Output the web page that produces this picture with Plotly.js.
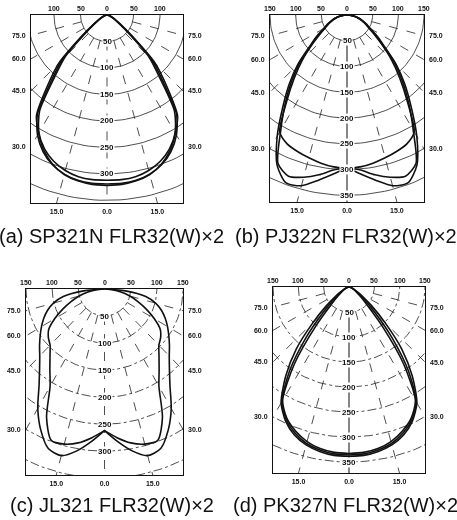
<!DOCTYPE html>
<html><head><meta charset="utf-8">
<script src="https://cdn.plot.ly/plotly-3.0.1.min.js"></script>
<style>html,body{margin:0;padding:0;background:#fff}#chart{width:457px;height:520px}#chart svg{will-change:transform}</style>
</head><body><div id="chart"></div>
<script>
// ---------- data ----------
const angles = [0,5,10,15,20,25,30,35,40,45,50,55,60,65,70,75,80,85,90];

// (a) SP321N
const spA1 = [319,319,317,311,301,285,262,229,165,120,58,30,18,11,7,4,2,1,0];
const spA2 = [312,312,310,304,294,279,257,222,155,112,52,27,16,10,6,4,2,1,0];
const spA3 = [322,321,318,312,300,282,258,232,175,128,62,33,20,12,8,5,3,1,0];
// (b) PJ322N
const pjB1 = [297,310,326,343,347,322,272,218,175,135,95,72,52,42,32,24,16,8,0];
const pjB2 = [297,302,315,326,333,318,258,210,168,130,92,68,50,40,31,23,15,8,0];
const pjB3 = [298,296,292,287,282,276,262,205,160,122,88,64,48,38,30,22,14,7,0];
// (c) JL321
const jlC1 = [262,283,304,319,314,288,255,218,193,175,162,150,139,128,116,101,80,40,0];
const jlC2 = [262,276,289,297,298,262,208,182,162,147,140,130,110,88,68,50,32,15,0];
// (d) PK327N
const pkD1 = [339,338,334,327,315,296,268,218,162,100,58,33,20,12,7,4,2,1,0];
const pkD2 = [333,332,328,320,307,290,262,188,102,50,29,18,12,8,5,3,2,1,0];
const pkD3 = [336,335,331,324,311,293,265,204,132,74,42,25,16,10,6,3,2,1,0];

const arcRadii = [50,100,150,200,250,300,350];
const arcLabelsA = [50,100,150,200,250,300];
const arcLabelsB = [50,100,150,200,250,300,350];
const arcLabelsC = [50,100,150,200,250,300];
const arcLabelsD = [50,100,150,200,250,300,350];
const gridAngles = [15,30,45,60,75];
const sideTickAngles = [75,60,45,30];
const sideTickText = ['75.0','60.0','45.0','30.0'];
const bottomTickAngles = [-15,0,15];
const bottomTickText = ['15.0','0.0','15.0'];
const topTicksA = [-100,-50,0,50,100];
const topTicksB = [-150,-100,-50,0,50,100,150];
const captions = ['(a) SP321N FLR32(W)×2','(b) PJ322N FLR32(W)×2','(c) JL321 FLR32(W)×2','(d) PK327N FLR32(W)×2'];

// ---------- layout geometry (pixels) ----------
const W = 457, H = 520, D = Math.PI/180;
const panels = [
  {curves:[spA1,spA2,spA3], labels:arcLabelsA, top:topTicksA, px:[31,183], py:[15,203], xr:143.4, yr:355, arcDash:'solid', capX:111, capY:236},
  {curves:[pjB1,pjB2,pjB3], labels:arcLabelsB, top:topTicksB, px:[270,424], py:[15,202], xr:150, yr:363, arcDash:'solid', capX:346, capY:236},
  {curves:[jlC1,jlC2], labels:arcLabelsC, top:topTicksB, px:[26,183], py:[289,475], xr:150, yr:344, arcDash:'dashdot', capX:112, capY:505},
  {curves:[pkD1,pkD2,pkD3], labels:arcLabelsD, top:topTicksB, px:[273,425], py:[287,473], xr:150, yr:372, arcDash:'dashdot', capX:345, capY:505}
];

const traces = [], annotations = [], layout = {
  width:W, height:H, margin:{l:0,r:0,t:0,b:0}, paper_bgcolor:'#fff', plot_bgcolor:'#fff',
  showlegend:false, font:{family:'Liberation Sans, Arial, sans-serif', color:'#111'}
};
const tickFont = {family:'Liberation Sans, Arial, sans-serif', size:7, color:'#111', weight:'bold'};

function curveXY(vals){
  const x=[], y=[];
  for(let i=angles.length-1;i>=0;i--){ x.push(-vals[i]*Math.sin(angles[i]*D)); y.push(-vals[i]*Math.cos(angles[i]*D)); }
  x.push(null); y.push(null);
  for(let i=0;i<angles.length;i++){ x.push(vals[i]*Math.sin(angles[i]*D)); y.push(-vals[i]*Math.cos(angles[i]*D)); }
  return {x,y};
}

panels.forEach((p,i)=>{
  const k = i+1, xa='x'+k, ya='y'+k;
  // arcs
  const ax=[], ay=[];
  arcRadii.forEach(r=>{
    for(let t=-90;t<=90;t+=2){ ax.push(r*Math.sin(t*D)); ay.push(-r*Math.cos(t*D)); }
    ax.push(null); ay.push(null);
  });
  traces.push({type:'scatter',mode:'lines',x:ax,y:ay,xaxis:xa,yaxis:ya,hoverinfo:'skip',
    line:{color:'#222',width:0.8,dash:p.arcDash}});
  // radial lines
  const rx=[], ry=[];
  gridAngles.forEach(g=>{
    [g,-g].forEach(t=>{
      rx.push(50*Math.sin(t*D), 900*Math.sin(t*D), null);
      ry.push(-50*Math.cos(t*D), -900*Math.cos(t*D), null);
    });
  });
  traces.push({type:'scatter',mode:'lines',x:rx,y:ry,xaxis:xa,yaxis:ya,hoverinfo:'skip',
    line:{color:'#222',width:0.8,dash:'dash'}});
  traces.push({type:'scatter',mode:'lines',x:[0,0],y:[-50,-900],xaxis:xa,yaxis:ya,hoverinfo:'skip',
    line:{color:'#222',width:(i%2===1)?1.1:0.8,dash:(i%2===1)?'solid':'dash'}});
  // curves
  p.curves.forEach(c=>{
    const xy = curveXY(c);
    traces.push({type:'scatter',mode:'lines',x:xy.x,y:xy.y,xaxis:xa,yaxis:ya,hoverinfo:'skip',
      connectgaps:false, line:{color:'#111',width:1.6,shape:'spline',smoothing:0.7}});
  });
  // axes
  layout['xaxis'+k] = {domain:[p.px[0]/W,p.px[1]/W], range:[-p.xr,p.xr], anchor:ya, side:'bottom',
    tickvals:bottomTickAngles.map(a=>p.yr*Math.tan(a*D)), ticktext:bottomTickText, ticks:'', tickfont:tickFont,
    showline:true, mirror:true, linecolor:'#111', linewidth:1, showgrid:false, zeroline:false, fixedrange:true, ticklabelstandoff:2};
  layout['yaxis'+k] = {domain:[1-p.py[1]/H,1-p.py[0]/H], range:[-p.yr,0], anchor:xa, side:'left',
    tickvals:sideTickAngles.map(a=>-p.xr/Math.tan(a*D)), ticktext:sideTickText, ticks:'', tickfont:tickFont,
    showline:true, mirror:true, linecolor:'#111', linewidth:1, showgrid:false, zeroline:false, fixedrange:true, ticklabelstandoff:3};
  // right side labels
  sideTickAngles.forEach((a,j)=>{
    annotations.push({xref:xa,yref:ya,x:p.xr,y:-p.xr/Math.tan(a*D),text:sideTickText[j],showarrow:false,
      xanchor:'left',xshift:3,font:tickFont});
  });
  // top labels
  p.top.forEach(t=>{
    annotations.push({xref:xa,yref:ya,x:t,y:0,text:String(Math.abs(t)),showarrow:false,yanchor:'bottom',yshift:1,font:tickFont});
  });
  // arc labels
  p.labels.forEach(r=>{
    annotations.push({xref:xa,yref:ya,x:0,y:-r,text:String(r),showarrow:false,bgcolor:'#fff',borderpad:0,
      font:{family:'Liberation Sans, Arial, sans-serif',size:8,color:'#111',weight:'bold'}});
  });
  // caption
  annotations.push({xref:'paper',yref:'paper',x:p.capX/W,y:1-p.capY/H,text:captions[i],showarrow:false,
    xanchor:'center',yanchor:'middle',font:{family:'Liberation Sans, Arial, sans-serif',size:20,color:'#111'}});
});
traces.forEach(t=>t.showlegend=false);
layout.annotations = annotations;
Plotly.newPlot('chart', traces, layout, {staticPlot:true, displayModeBar:false});
</script>
</body></html>
